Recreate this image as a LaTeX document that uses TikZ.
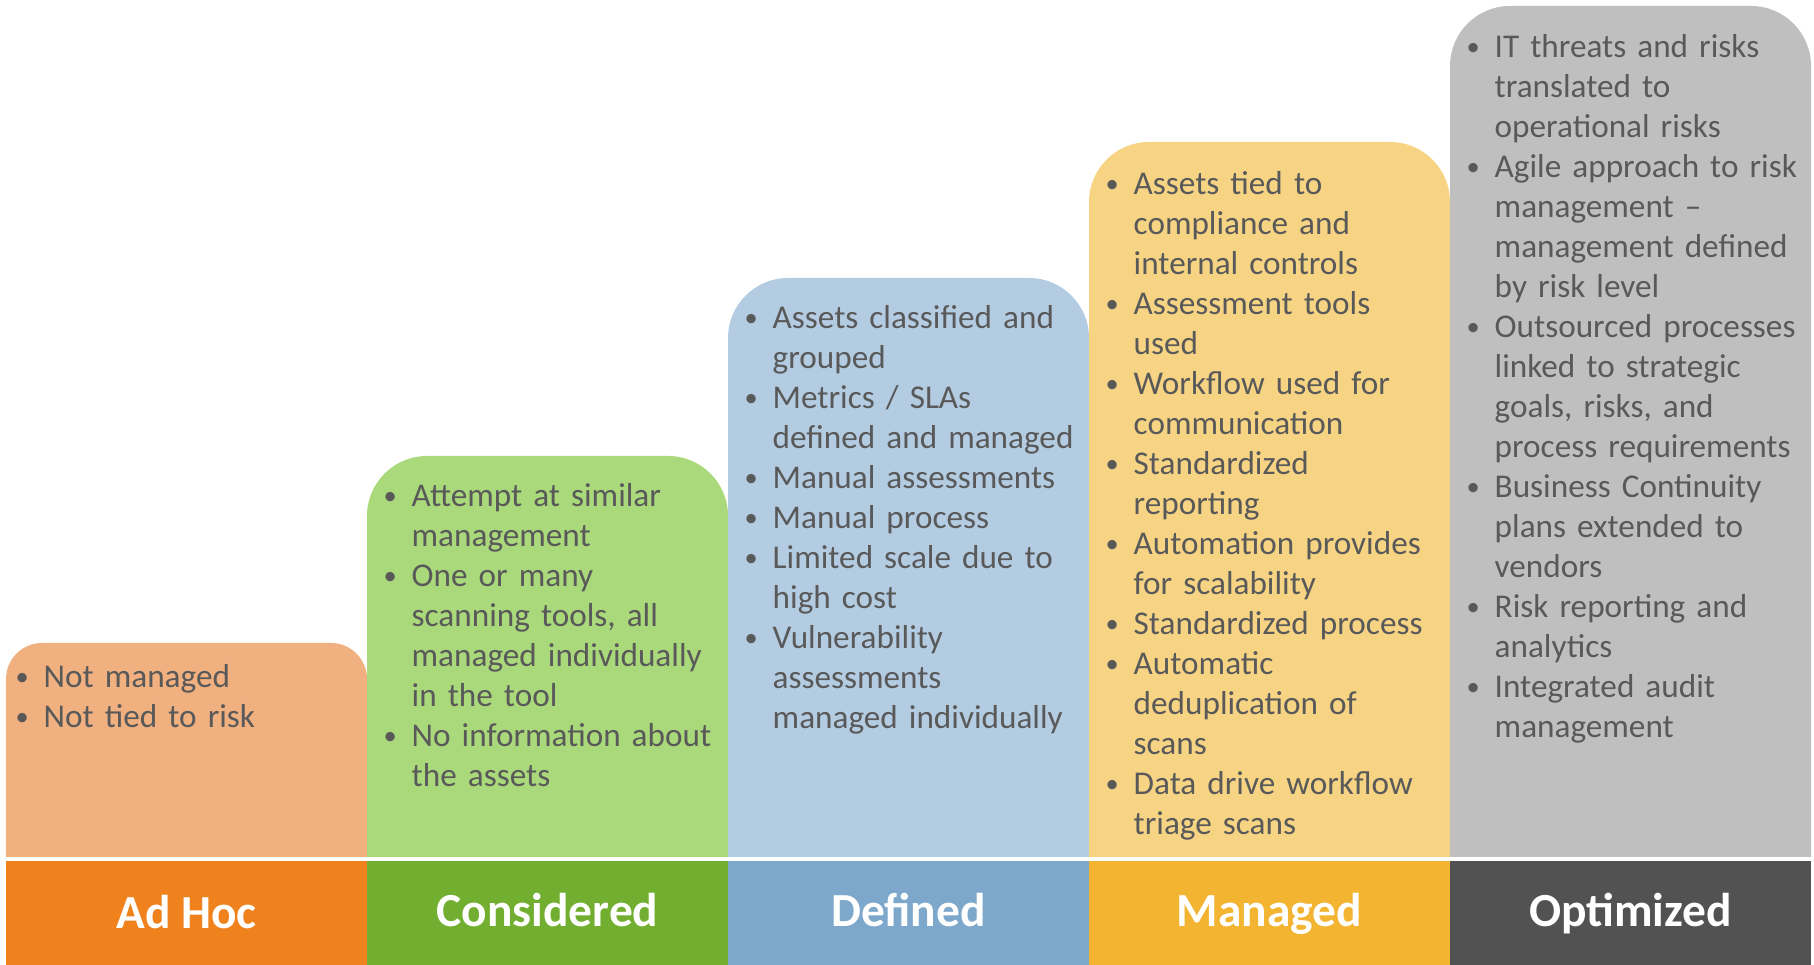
\documentclass[tikz,border=0pt]{standalone}
\usepackage{fontspec}
\setmainfont{Carlito}
\usepackage{tikz}

\definecolor{txtgray}{HTML}{595959}
\definecolor{adhoclight}{HTML}{F0B080}
\definecolor{adhocdark}{HTML}{F0821E}
\definecolor{considlight}{HTML}{AAD97B}
\definecolor{considdark}{HTML}{72AE2F}
\definecolor{deflight}{HTML}{B4CCE2}
\definecolor{defdark}{HTML}{7DA7CB}
\definecolor{manlight}{HTML}{F6D484}
\definecolor{mandark}{HTML}{F2B431}
\definecolor{optlight}{HTML}{BFBFBF}
\definecolor{optdark}{HTML}{525252}

% one bullet point, hanging indent for the wrapped lines
\newcommand{\bul}{\par\hangindent=0.24cm\hangafter=1\noindent\rule{0pt}{0.3cm}\makebox[0.24cm][l]{\hspace{-0.04cm}\raisebox{0.02cm}{\fontsize{7.5pt}{7.5pt}\selectfont\textbullet}}}
% box with the two top corners rounded: left x, top y, radius, colour
\newcommand{\levelbox}[4]{\fill[#4] (#1,1.08) -- (#1,#2-#3) arc[start angle=180,end angle=90,radius=#3] -- (#1+3.61-#3,#2) arc[start angle=90,end angle=0,radius=#3] -- (#1+3.61,1.08) -- cycle;}

\tikzset{items/.style={anchor=north west, inner sep=0pt, text width=3.4cm, align=left, text=txtgray, font=\fontsize{9.45pt}{11.38pt}\selectfont},
         level/.style={anchor=base, inner sep=0pt, text=white, font=\fontsize{13.5pt}{16pt}\selectfont\bfseries}}

\begin{document}
\begin{tikzpicture}
  \useasboundingbox (0,0) rectangle (18.14,9.65);

  % steps
  \levelbox{0.06}{3.22}{0.36}{adhoclight}
  \levelbox{3.67}{5.09}{0.6}{considlight}
  \levelbox{7.28}{6.87}{0.6}{deflight}
  \levelbox{10.89}{8.23}{0.6}{manlight}
  \levelbox{14.50}{9.59}{0.6}{optlight}

  % bottom band
  \fill[adhocdark] (0.06,0) rectangle (3.67,1.04);
  \fill[considdark] (3.67,0) rectangle (7.28,1.04);
  \fill[defdark] (7.28,0) rectangle (10.89,1.04);
  \fill[mandark] (10.89,0) rectangle (14.50,1.04);
  \fill[optdark] (14.50,0) rectangle (18.11,1.04);

  \node[level] (adhoc) at (1.865,0.36) {Ad Hoc};
  \node[level] (consid) at (5.475,0.38) {Considered};
  \node[level] (defined) at (9.085,0.38) {Defined};
  \node[level] (managed) at (12.695,0.38) {Managed};
  \node[level] (optim) at (16.305,0.38) {Optimized};

  % lists
  \node[items] (adhoclist) at (0.19,3.18) {%
    \bul Not managed
    \bul Not tied to risk\par};
  \node[items] (considlist) at (3.87,4.99) {%
    \bul Attempt at similar\newline management
    \bul One or many\newline scanning tools, all\newline managed individually\newline in the tool
    \bul No information about\newline the assets\par};
  \node[items] (deflist) at (7.48,6.77) {%
    \bul Assets classified and\newline grouped
    \bul Metrics / SLAs\newline defined and managed
    \bul Manual assessments
    \bul Manual process
    \bul Limited scale due to\newline high cost
    \bul Vulnerability\newline assessments\newline managed individually\par};
  \node[items] (manlist) at (11.09,8.11) {%
    \bul Assets tied to\newline compliance and\newline internal controls
    \bul Assessment tools\newline used
    \bul Workflow used for\newline communication
    \bul Standardized\newline reporting
    \bul Automation provides\newline for scalability
    \bul Standardized process
    \bul Automatic\newline deduplication of\newline scans
    \bul Data drive workflow\newline triage scans\par};
  \node[items] (optlist) at (14.70,9.48) {%
    \bul IT threats and risks\newline translated to\newline operational risks
    \bul Agile approach to risk\newline management –\newline management defined\newline by risk level
    \bul Outsourced processes\newline linked to strategic\newline goals, risks, and\newline process requirements
    \bul Business Continuity\newline plans extended to\newline vendors
    \bul Risk reporting and\newline analytics
    \bul Integrated audit\newline management\par};
\end{tikzpicture}
\end{document}
